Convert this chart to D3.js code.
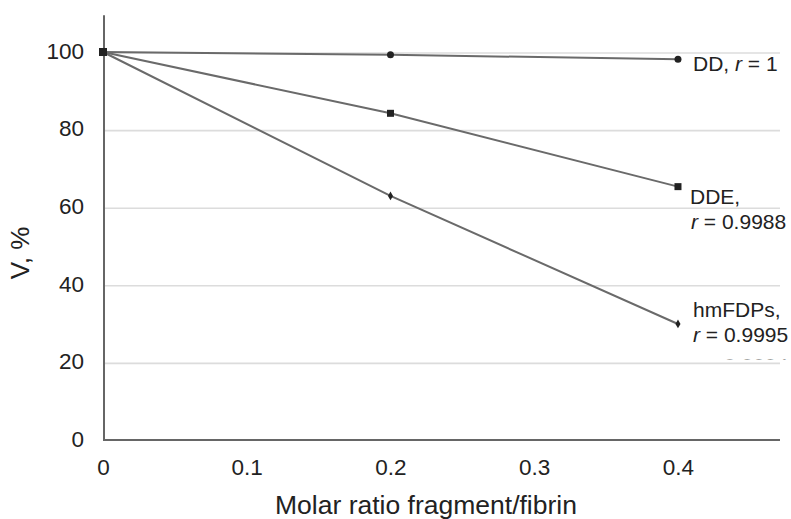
<!DOCTYPE html>
<html>
<head>
<meta charset="utf-8">
<script src="https://cdn.jsdelivr.net/npm/d3@7"></script>
<style>
  html, body { margin: 0; padding: 0; background: #fff; }
  svg { display: block; font-family: "Liberation Sans", Arial, Helvetica, sans-serif; }
</style>
</head>
<body>
<svg id="chart" width="791" height="519"></svg>
<script>
// ---- data ----
const ratios = [0, 0.2, 0.4];
const ddValues = [100, 99.3, 98.1];
const ddeValues = [100, 84.2, 65.3];
const hmfdpValues = [100, 62.9, 29.9];
const seriesNames = ["DD", "DDE", "hmFDPs"];
const seriesR = ["1", "0.9988", "0.9995"];
const xTicks = [0, 0.1, 0.2, 0.3, 0.4];
const yTicks = [0, 20, 40, 60, 80, 100];
const xTitle = "Molar ratio fragment/fibrin";
const yTitle = "V, %";

// ---- layout ----
const svg = d3.select("#chart");
const x = d3.scaleLinear().domain([0, 0.47]).range([103, 778.6]);
const y = d3.scaleLinear().domain([0, 110]).range([440, 13.2]);

// gridlines
svg.append("g").selectAll("line").data(yTicks.filter(d => d > 0)).join("line")
  .attr("x1", x(0)).attr("x2", 780)
  .attr("y1", d => y(d) + 1).attr("y2", d => y(d) + 1)
  .attr("stroke", "#dcdcdc").attr("stroke-width", 1.6);

// y axis
const yAxis = d3.axisLeft(y).tickValues(yTicks).tickSize(0).tickPadding(20);
const gy = svg.append("g").attr("transform", `translate(${x(0) + 1},0)`).call(yAxis);
gy.select(".domain").remove();
gy.selectAll("text").attr("font-size", 22.5).attr("fill", "#222")
  .attr("font-family", "Liberation Sans, Arial, sans-serif").attr("dy", "0.28em");
svg.append("line").attr("x1", x(0) + 1).attr("x2", x(0) + 1)
  .attr("y1", y(109.5)).attr("y2", y(0)).attr("stroke", "#666").attr("stroke-width", 2);

// x axis
const xAxis = d3.axisBottom(x).tickValues(xTicks).tickSize(0).tickPadding(19)
  .tickFormat(d => d === 0 ? "0" : d3.format(".1f")(d));
const gx = svg.append("g").attr("transform", `translate(0,${y(0)})`).call(xAxis);
gx.select(".domain").remove();
gx.selectAll("text").attr("font-size", 22.5).attr("fill", "#222")
  .attr("font-family", "Liberation Sans, Arial, sans-serif");
svg.append("line").attr("x1", x(0)).attr("x2", 780)
  .attr("y1", y(0)).attr("y2", y(0)).attr("stroke", "#666").attr("stroke-width", 2);

// axis titles
svg.append("text").attr("x", 426).attr("y", 514).attr("text-anchor", "middle")
  .attr("font-size", 26.5).attr("fill", "#222").text(xTitle);
svg.append("text").attr("transform", "translate(29,253) rotate(-90)")
  .attr("text-anchor", "middle").attr("font-size", 26).attr("fill", "#222").text(yTitle);

// series
const series = [ddValues, ddeValues, hmfdpValues];
const line = d3.line().x((d, i) => x(ratios[i])).y(d => y(d));
series.forEach(vals => {
  svg.append("path").datum(vals).attr("d", line)
    .attr("fill", "none").attr("stroke", "#6a6a6a").attr("stroke-width", 2);
});

// markers
const mk = svg.append("g");
hmfdpValues.forEach((v, i) => {
  mk.append("path").attr("d", d3.symbol(d3.symbolDiamond, 22)())
    .attr("transform", `translate(${x(ratios[i])},${y(v)})`).attr("fill", "#222");
});
ddValues.forEach((v, i) => {
  mk.append("circle").attr("cx", x(ratios[i])).attr("cy", y(v)).attr("r", 3.5).attr("fill", "#222");
});
ddeValues.forEach((v, i) => {
  const s = i === 0 ? 8 : 7;
  mk.append("rect").attr("x", x(ratios[i]) - s / 2).attr("y", y(v) - s / 2)
    .attr("width", s).attr("height", s).attr("fill", "#222");
});

// labels
function rText(sel, prefix, rv) {
  if (prefix) sel.append("tspan").text(prefix);
  sel.append("tspan").attr("font-style", "italic").text("r");
  sel.append("tspan").text(" = " + rv);
}
const lab = svg.append("g").attr("font-size", 21).attr("fill", "#222");
const t1 = lab.append("text").attr("x", 693).attr("y", 70.5);
rText(t1, seriesNames[0] + ", ", seriesR[0]);
lab.append("text").attr("x", 690).attr("y", 203.5).text(seriesNames[1] + ",");
rText(lab.append("text").attr("x", 691).attr("y", 228.5), "", seriesR[1]);
lab.append("text").attr("x", 693).attr("y", 316.5).text(seriesNames[2] + ",");
rText(lab.append("text").attr("x", 693).attr("y", 341.5), "", seriesR[2]);

// partially hidden leftover label line (only the top edge is visible)
svg.append("clipPath").attr("id", "cut").append("rect")
  .attr("x", 690).attr("y", 356).attr("width", 101).attr("height", 3.5);
const t4 = lab.append("text").attr("x", 693).attr("y", 373).attr("clip-path", "url(#cut)")
  .attr("fill", "#555");
rText(t4, "", "0.9994");
</script>
</body>
</html>
